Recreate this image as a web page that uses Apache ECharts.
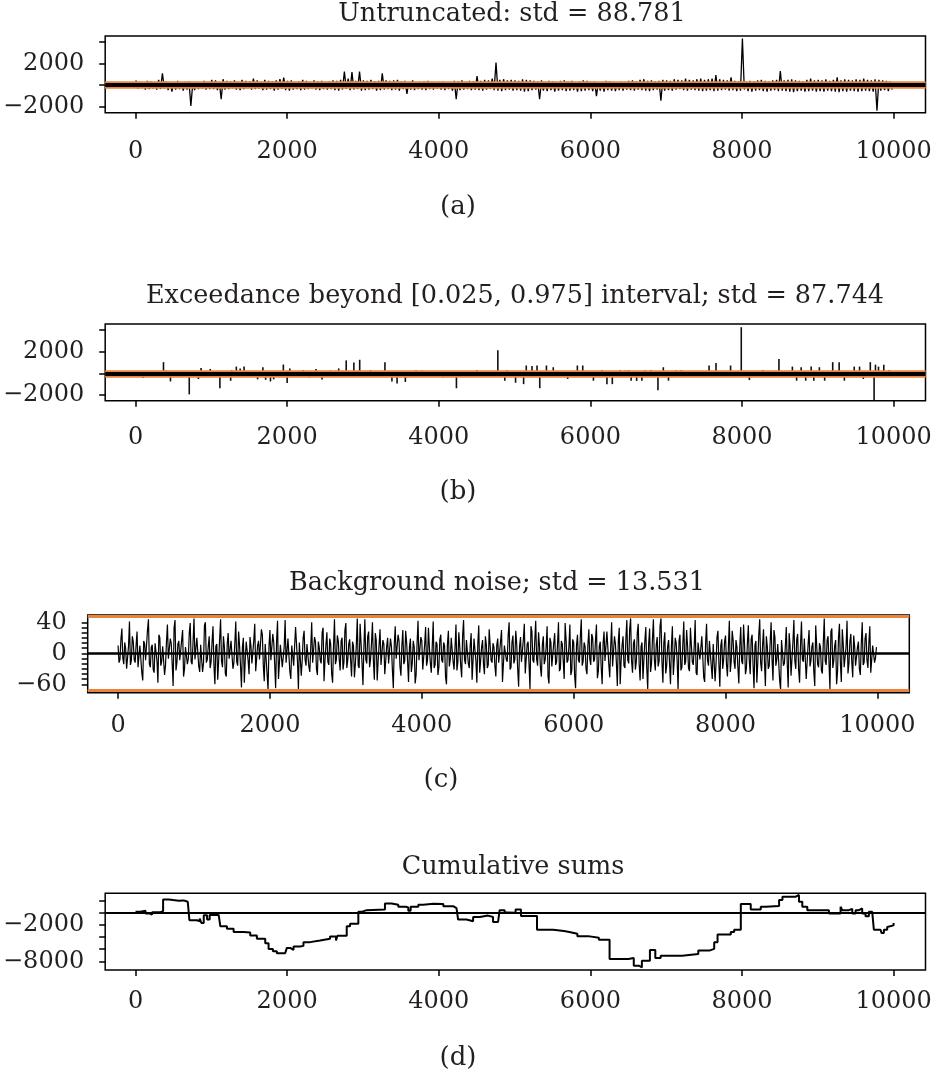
<!DOCTYPE html>
<html>
<head>
<meta charset="utf-8">
<script src="https://cdn.jsdelivr.net/npm/echarts@6.0.0/dist/echarts.min.js"></script>
<style>
html,body{margin:0;padding:0;background:#fff;}
#chart{width:936px;height:1076px;}
</style>
</head>
<body>
<div id="chart"></div>
<script>
// ---------------- DATA ----------------
const titles = ['Untruncated: std = 88.781',
  'Exceedance beyond [0.025, 0.975] interval; std = 87.744',
  'Background noise; std = 13.531',
  'Cumulative sums'];
const captions = ['(a)', '(b)', '(c)', '(d)'];
const xTicks = [0, 2000, 4000, 6000, 8000, 10000];

// (a) untruncated series, per 50-sample bin: upper and lower excursions
const aBin = 50;
const aPos = [
 450,300,250,400,350,300,500,1100,350,300,
 250,400,200,300,350,150,300,250,400,300,
 500,450,300,550,400,350,450,300,500,400,
 350,600,450,300,500,400,350,450,550,700,
 400,450,300,350,500,400,300,450,350,400,
 300,350,450,400,500,1250,600,1200,400,1250,
 450,400,500,350,400,1100,450,400,450,500,
 350,400,300,450,250,300,350,400,300,250,
 300,350,250,300,400,350,450,300,400,350,
 850,400,500,450,600,2090,500,550,450,500,
 450,400,550,500,450,400,350,450,300,400,
 350,300,400,450,350,400,300,350,450,400,
 300,350,250,300,400,350,300,250,350,300,
 400,450,350,500,550,400,450,350,400,500,
 450,400,550,500,450,600,500,450,550,600,
 500,550,600,940,550,500,450,730,400,350,
 4300,300,400,350,450,500,400,350,450,500,
 1310,450,500,550,450,400,350,500,600,450,
 500,450,550,400,500,720,450,550,500,450,
 550,500,600,500,450,550,500,450,400,350];
const aNeg = [
 -300,-250,-400,-350,-300,-400,-350,-300,-450,-600,
 -400,-350,-500,-400,-1920,-450,-350,-300,-400,-350,
 -350,-450,-1300,-400,-350,-300,-400,-450,-350,-300,
 -400,-350,-300,-450,-400,-350,-500,-400,-350,-450,
 -500,-400,-350,-450,-400,-350,-300,-400,-450,-350,
 -400,-350,-450,-500,-400,-350,-450,-400,-350,-500,
 -450,-400,-350,-500,-450,-400,-350,-450,-400,-500,
 -350,-810,-400,-450,-350,-400,-450,-350,-400,-300,
 -400,-450,-350,-500,-1300,-450,-400,-350,-450,-400,
 -450,-500,-400,-350,-450,-500,-550,-450,-400,-500,
 -450,-500,-600,-550,-450,-400,-1300,-500,-550,-450,
 -600,-500,-450,-550,-500,-450,-600,-550,-500,-450,
 -550,-1000,-500,-600,-450,-500,-550,-450,-500,-400,
 -450,-500,-400,-450,-500,-550,-450,-400,-1430,-500,
 -450,-500,-400,-350,-450,-500,-400,-450,-500,-550,
 -500,-450,-550,-500,-450,-400,-500,-450,-550,-500,
 -400,-550,-600,-500,-450,-550,-600,-500,-450,-550,
 -500,-550,-600,-650,-550,-500,-600,-550,-500,-600,
 -550,-600,-500,-550,-600,-650,-550,-600,-500,-550,
 -600,-550,-500,-550,-600,-2350,-500,-450,-550,-400];

// (b) exceedances beyond the interval: sample index and value
const bX = [99,369,400,461,709,830,865,986,1113,1255,1269,1330,1380,1432,1610,1680,1716,1780,1822,1950,
 2000,2035,2212,2290,2380,2460,2570,2680,2779,2850,2880,2957,3100,3290,3382,3450,3559,3700,3780,4060,
 4233,4502,4779,4871,4900,5013,5119,5154,5230,5296,5332,5420,5510,5700,5828,5899,6040,6150,6218,6289,
 6395,6460,6502,6537,6610,6679,6720,6800,6891,6962,7030,7130,7200,7565,7657,7849,7990,8097,8274,8487,
 8664,8720,8780,8840,8912,8947,9020,9090,9196,9281,9350,9480,9550,9600,9692,9742,9760,9800,9870,9941];
const bV = [-440,1030,250,-750,-1940,-530,500,400,-1375,-690,300,620,450,620,-560,560,-600,-750,-560,810,
 -900,450,300,-380,400,-560,260,450,1190,-300,1000,1250,300,1030,-750,-940,-800,280,250,-380,
 -1375,300,2125,-680,280,-870,-1000,720,680,720,-1375,720,560,-520,720,720,-680,300,-1000,-1000,
 300,260,300,-680,-700,-680,280,300,-1560,560,-680,280,300,720,940,720,4250,-620,300,1310,
 620,-680,560,-680,620,-680,560,-680,1030,1030,-680,620,620,-520,1030,-2500,800,620,800,300];
const bThreshold = 48;

// (c) background noise: samples every 25 (cVals) and the in-between samples (cMid)
const cStep = 25;
const cVals = [
 10,-8,32,-14,6,-22,41,-9,15,-12, 28,-16,9,-35,12,-7,44,-18,11,-25,
 14,-38,20,-10,8,-15,37,-6,13,-42, 43,-12,16,-9,30,-20,10,-7,39,-14,
 45,-10,18,-24,9,-13,40,-8,22,-11, 35,-40,12,-9,44,-18,8,-30,26,-6,
 15,-12,41,-16,10,-44,20,-8,13,-27, 9,-14,38,-22,16,-10,24,-36,12,-47,
 30,-8,14,-45,42,-12,9,-20,43,-10, 18,-33,8,-14,36,-46,12,-9,29,-16,
 11,-24,40,-10,15,-28,7,-13,33,-9, 27,-15,12,-38,44,-8,16,-22,20,-11,
 39,-9,18,-30,10,-14,45,-19,13,-41, 44,-13,28,-8,40,-34,17,-10,31,-15,
 12,-26,20,-11,9,-45,35,-8,16,-29, 30,-10,14,-37,19,-12,8,-28,42,-9,
 16,-20,34,-9,7,-25,41,-15,12,-18, 24,-12,10,-40,29,-8,18,-21,37,-11,
 8,-31,43,-14,15,-19,26,-9,20,-38, 36,-9,17,-27,11,-15,33,-12,8,-30,
 19,-14,30,-36,10,-11,40,-18,23,-8, 12,-43,21,-10,38,-24,15,-46,28,-12,
 42,-16,9,-30,22,-8,35,-39,14,-17, 26,-11,40,-20,12,-33,18,-9,37,-22,
 14,-45,24,-12,44,-10,9,-27,31,-15, 20,-8,37,-23,15,-40,28,-11,8,-31,
 40,-18,12,-42,33,-9,22,-19,43,-13, 45,-25,18,-11,38,-35,14,-8,34,-46,
 32,-13,44,-22,21,-10,45,-38,27,-16, 17,-40,35,-8,13,-47,24,-18,41,-11,
 9,-23,31,-15,43,-28,12,-9,20,-37, 38,-16,15,-33,10,-13,29,-43,18,-8,
 23,-30,42,-10,17,-20,8,-39,34,-14, 12,-19,36,-27,24,-45,16,-11,44,-23,
 31,-42,9,-16,40,-35,21,-8,13,-47, 18,-13,34,-44,10,-28,43,-20,25,-38,
 41,-11,17,-35,30,-9,14,-42,37,-18, 8,-26,45,-15,22,-46,32,-10,17,-24,
 38,-37,12,-20,42,-13,25,-31,9,-17, 15,-28,40,-12,26,-19,35,-8,11,-6];
const cMid = [
 -12,18,-6,14,-20,9,-15,22,-8,11, -18,10,-25,16,-9,30,-14,8,-21,13,
 -10,24,-16,9,-28,15,-7,19,-13,33, -22,12,-9,17,-30,8,-14,26,-11,15,
 -8,20,-17,11,-24,36,-12,9,-19,14, -15,9,-34,18,-10,22,-26,12,-7,16,
 -20,13,-11,28,-16,8,-38,15,-9,21, -13,17,-23,10,-8,31,-15,12,-27,9,
 -9,25,-14,16,-33,11,-18,8,-12,19, -24,10,-16,34,-10,14,-29,20,-8,12,
 -17,8,-12,21,-20,15,-9,27,-36,11, -11,19,-26,9,-14,23,-8,16,-21,30,
 -19,12,-9,15,-31,10,-16,38,-12,8, -8,22,-18,13,-10,26,-35,11,-15,17,
 -27,9,-13,19,-21,12,-7,24,-17,10, -14,29,-10,8,-24,16,-39,13,-9,21,
 -21,11,-16,33,-12,9,-19,15,-28,18, -9,14,-30,12,-17,20,-11,8,-22,27,
 -16,23,-8,17,-13,10,-34,19,-10,12, -25,8,-14,22,-19,31,-9,13,-16,11,
 -12,16,-37,10,-8,24,-21,14,-13,29, -20,9,-11,18,-26,12,-15,35,-9,16,
 -8,27,-19,11,-14,8,-30,20,-17,13, -15,12,-23,16,-10,39,-12,9,-28,18,
 -29,10,-9,21,-16,14,-20,11,-8,25, -11,17,-32,9,-18,13,-10,28,-14,8,
 -17,22,-12,15,-40,10,-16,19,-9,31, -10,13,-21,26,-14,9,-33,16,-19,12,
 -24,18,-8,11,-17,35,-11,14,-26,9, -13,10,-28,20,-9,16,-22,12,-15,30,
 -19,33,-11,9,-25,14,-8,22,-31,13, -9,16,-17,12,-36,21,-13,10,-20,15,
 -14,8,-24,29,-11,17,-18,9,-10,37, -27,13,-9,18,-15,11,-38,24,-12,10,
 -11,22,-20,14,-8,30,-16,12,-35,17, -16,9,-13,26,-29,15,-10,18,-21,11,
 -8,19,-33,12,-17,9,-24,36,-14,13, -22,14,-10,17,-12,28,-19,10,-40,20,
 -13,31,-18,9,-26,15,-11,23,-16,8, -20,12,-15,19,-9,14,-25,10,-12,8];
const cThreshold = 48;
const cTickVals = [-40,-33.333,-26.667,-20,-13.333,-6.667,0,6.667,13.333,20,26.667,33.333,40];
const cLabelVals = [-40, 0, 40];
const cLabelTexts = ['\u221260', '0', '40'];

// (d) cumulative sums: change points (sample index, level)
const dX = [0,66,132,189,219,329,364,439,496,570, 636,689,711,812,847,869,900,944,978,1097,
 1119,1206,1294,1426,1513,1601,1711,1755,1812,1864, 1974,1996,2040,2084,2171,2215,2303,2435,2566,2645,
 2663,2786,2830,2939,2983,3049,3290,3378,3466,3567, 3598,3629,3730,3796,3928,4060,4190,4234,4255,4365,
 4453,4541,4650,4716,4782,4803,4869,4906,5013,5084, 5296,5509,5651,5722,5828,5970,6112,6253,6501,6572,
 6643,6679,6785,6856,6927,7210,7423,7567,7633,7677, 7852,7896,7984,8115,8247,8313,8489,8533,8708,8730,
 8751,8795,8861,9146,9300,9322,9410,9454,9498,9542, 9585,9629,9673,9717,9739,9827,9840,9871,9915,9936,9999];
const dY = [200,340,-110,-280,110,280,2220,2110,2000,2060, 1840,1670,-1220,-1390,-950,-1670,-390,-1110,-340,-220,
 -2220,-2610,-3160,-3220,-3720,-4280,-5000,-5950,-6330,-6670, -6890,-5780,-6110,-5560,-5450,-4830,-4560,-4280,-3890,-4560,
 -3780,-2220,-1780,170,450,560,1560,1340,1000,890, 340,1000,1340,1500,1450,1110,780,450,-1110,-1390,
 -670,-450,-670,-1500,-1610,450,60,0,560,-500, -2780,-3000,-3170,-3450,-3840,-4110,-4450,-7620,-7450,-8730,
 -9000,-7900,-6110,-7450,-7060,-6780,-6230,-5940,-4830,-3560, -3160,-2770,1450,560,1010,1120,2120,2670,2840,2950,
 1840,1010,450,-110,1010,450,670,-110,450,730, -110,-560,170,-110,-2780,-2890,-3330,-2780,-2330,-2060,-1670];
const dTickVals = [2000, 0, -2000, -4000, -6000, -8000];
const dLabelVals = [-2000, -8000];

// ---------------- CHART ----------------
const FONT = 'DejaVu Serif';
const TXT = '#231f20';
const ORANGE = '#e8843c';
const minus = v => (v < 0 ? '\u2212' + Math.abs(v) : String(v));

const aData = [];
aPos.forEach((v, i) => { aData.push([i * aBin + 5, v]); aData.push([i * aBin + 30, aNeg[i]]); });
const bData = bX.map((x, i) => [x, bV[i]]);
const cData = [];
cVals.forEach((v, i) => { cData.push([i * cStep, v]); cData.push([i * cStep + cStep / 2, cMid[i]]); });
const dData = dX.map((x, i) => [x, dY[i]]);

const grids = [
  {left: 104.5, top: 36, width: 821, height: 76.7},
  {left: 104.5, top: 324, width: 821, height: 76.7},
  {left: 87.7, top: 615, width: 821.6, height: 77.7},
  {left: 104.5, top: 893.3, width: 821, height: 76.7}
].map(g => Object.assign(g, {show: true, borderColor: '#000', borderWidth: 1.5, backgroundColor: 'transparent'}));

function xAxisFor(gi, margin) {
  return {gridIndex: gi, type: 'value', min: -400, max: 10420,
    axisLine: {show: false, onZero: false}, splitLine: {show: false},
    axisTick: {show: true, inside: false, length: 6, customValues: xTicks, lineStyle: {color: '#000', width: 1.5}},
    axisLabel: {customValues: xTicks, margin: margin, fontFamily: FONT, fontSize: 24, color: TXT,
      formatter: v => String(v)}};
}
function yAxisFor(gi, min, max, ticks, labelVals, fmt) {
  return {gridIndex: gi, type: 'value', min: min, max: max,
    axisLine: {show: false, onZero: false}, splitLine: {show: false},
    axisTick: {show: true, inside: false, length: 6, customValues: ticks, lineStyle: {color: '#000', width: 1.5}},
    axisLabel: {customValues: labelVals, margin: 21, fontFamily: FONT, fontSize: 24, color: TXT,
      formatter: fmt}};
}
function lookup(vals, texts) {
  return v => { for (let i = 0; i < vals.length; i++) if (Math.abs(vals[i] - v) < 1e-6) return texts[i]; return ''; };
}
function hLines(items) {
  return {symbol: ['none', 'none'], silent: true, animation: false, label: {show: false},
    data: items.map(it => ({yAxis: it[0], lineStyle: {color: it[1], width: it[2], type: 'solid'}}))};
}

const centers = [512, 515, 497, 513];
const titleY = [14, 296, 583, 867];
const capX = [458, 458, 441, 458];
const capY = [207, 492, 780, 1058];
const graphics = [];
titles.forEach((t, i) => graphics.push({type: 'text', x: centers[i], y: titleY[i],
  style: {text: t, font: '25.5px "' + FONT + '"', fill: TXT, textAlign: 'center', textVerticalAlign: 'middle', align: 'center', verticalAlign: 'middle'}}));
captions.forEach((t, i) => graphics.push({type: 'text', x: capX[i], y: capY[i],
  style: {text: t, font: '26px "' + FONT + '"', fill: TXT, textAlign: 'center', textVerticalAlign: 'middle', align: 'center', verticalAlign: 'middle'}}));

const option = {
  animation: false,
  backgroundColor: '#fff',
  grid: grids,
  xAxis: [xAxisFor(0, 27), xAxisFor(1, 25), xAxisFor(2, 21), xAxisFor(3, 20)],
  yAxis: [
    yAxisFor(0, -2535, 4535, [-2000, 0, 2000, 4000], [-2000, 2000], minus),
    yAxisFor(1, -2525, 4545, [-2000, 0, 2000, 4000], [-2000, 2000], minus),
    yAxisFor(2, -50.8, 49.4, cTickVals, cLabelVals, lookup(cLabelVals, cLabelTexts)),
    yAxisFor(3, -9430, 3230, dTickVals, dLabelVals, minus)
  ],
  graphic: graphics,
  series: [
    {type: 'line', xAxisIndex: 0, yAxisIndex: 0, data: aData, symbol: 'none', silent: true,
     lineStyle: {color: '#000', width: 1.3}, z: 2,
     markLine: hLines([[bThreshold, ORANGE, 6.5], [-bThreshold, ORANGE, 6.5], [0, '#000', 4]])},
    {type: 'bar', xAxisIndex: 1, yAxisIndex: 1, data: bData, barWidth: 1.6, silent: true,
     itemStyle: {color: '#111'}, z: 2,
     markLine: hLines([[bThreshold, ORANGE, 6.5], [-bThreshold, ORANGE, 6.5], [0, '#000', 4]])},
    {type: 'line', xAxisIndex: 2, yAxisIndex: 2, data: cData, symbol: 'none', silent: true,
     lineStyle: {color: '#000', width: 1.2}, z: 2,
     markLine: hLines([[cThreshold, ORANGE, 3], [-cThreshold, ORANGE, 3], [0, '#000', 2.5]])},
    {type: 'line', xAxisIndex: 3, yAxisIndex: 3, data: dData, step: 'end', symbol: 'none', silent: true,
     lineStyle: {color: '#000', width: 2}, z: 2,
     markLine: hLines([[0, '#000', 1.8]])}
  ]
};
const chart = echarts.init(document.getElementById('chart'), null, {renderer: 'canvas'});
chart.setOption(option);
</script>
</body>
</html>
